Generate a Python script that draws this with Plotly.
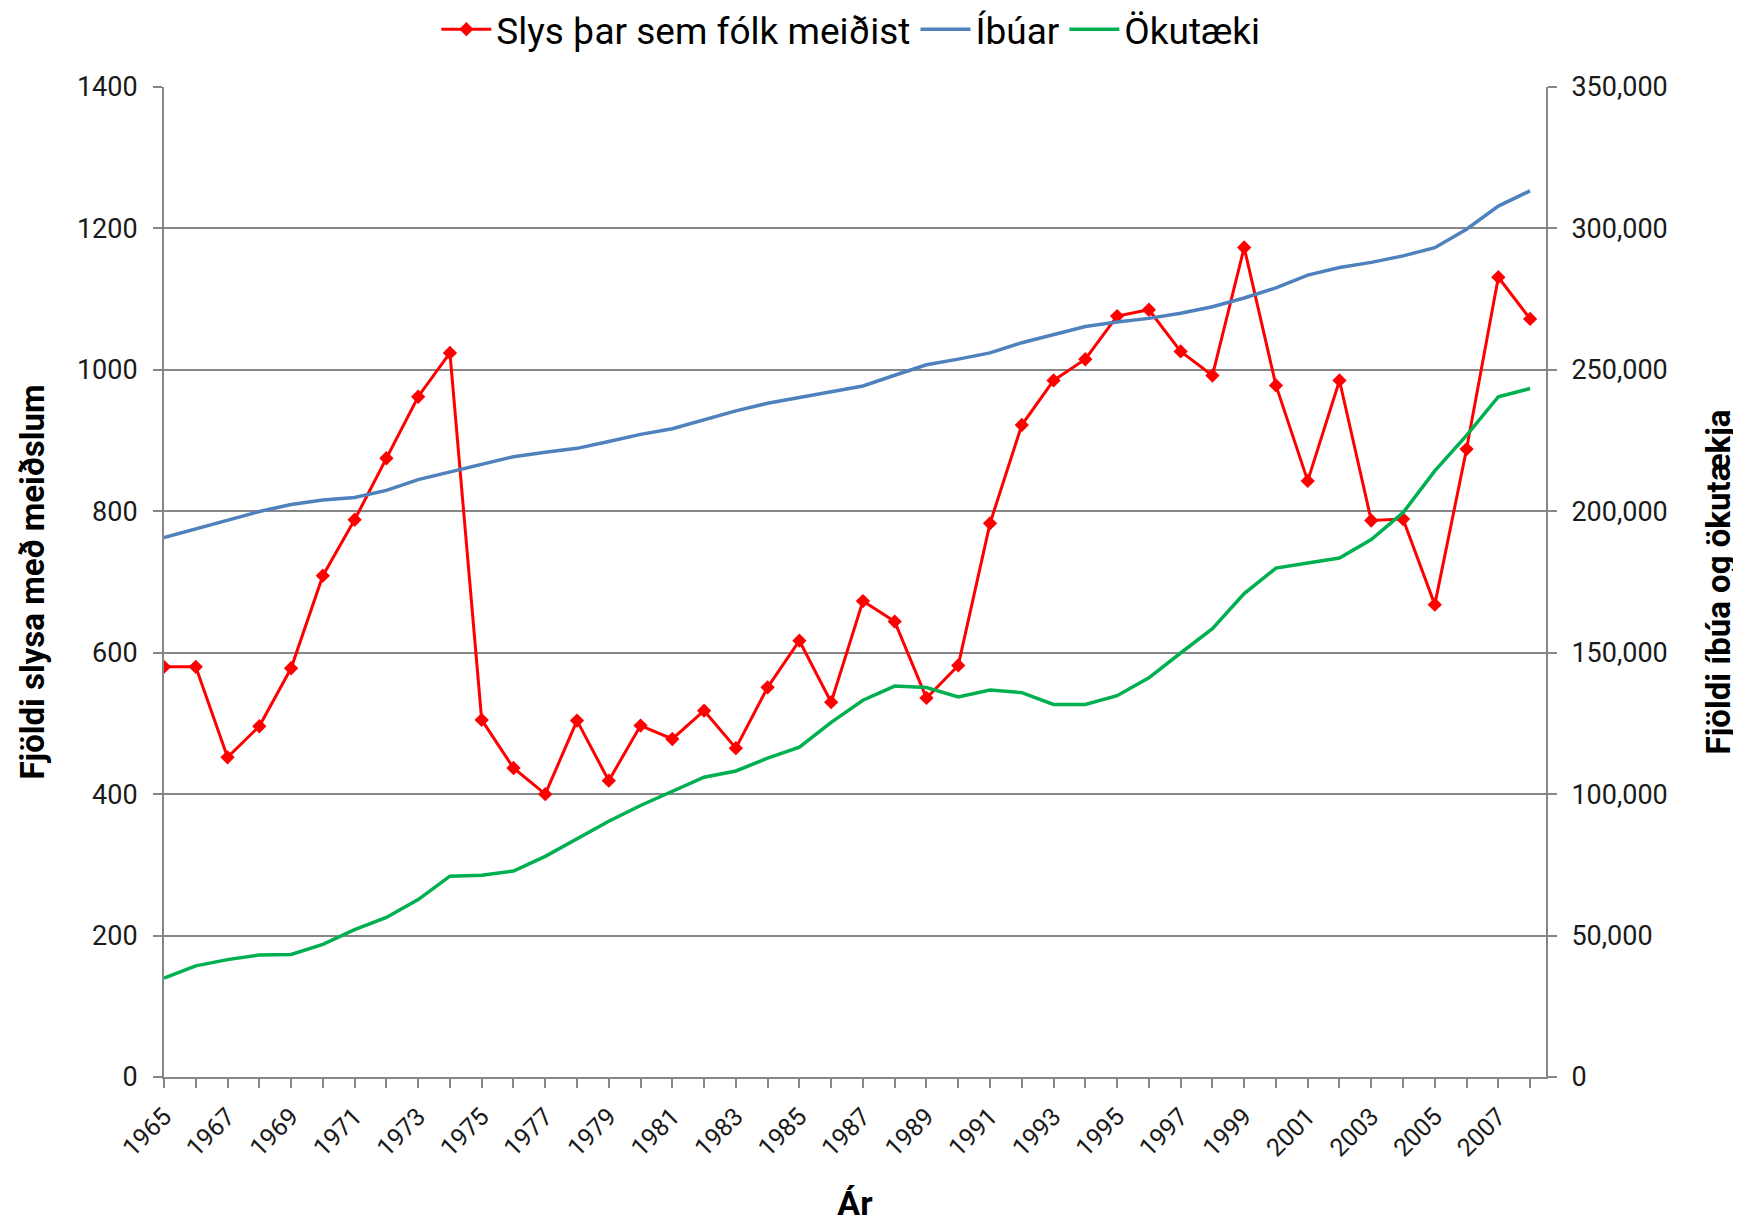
import plotly.graph_objects as go

years = list(range(1965, 2009))

slys = [580, 580, 452, 496, 578, 709, 788, 875, 962, 1024,
        505, 437, 400, 504, 419, 497, 478, 518, 465, 551,
        617, 530, 673, 644, 536, 582, 783, 922, 985, 1015,
        1076, 1085, 1026, 992, 1173, 978, 843, 985, 787, 789,
        668, 888, 1131, 1072]

ibuar = [190700, 193800, 197000, 199900, 202400, 204000, 204900, 207400, 211200, 213900,
         216600, 219300, 220900, 222250, 224700, 227200, 229200, 232400, 235500, 238200,
         240300, 242100, 244300, 248100, 251800, 253800, 256000, 259600, 262600, 265300,
         266900, 268200, 270000, 272300, 275400, 279000, 283500, 286200, 288000, 290300,
         293200, 299700, 307900, 313300]

okutaeki = [35000, 39300, 41500, 43100, 43300, 46900, 52100, 56400, 62700, 71000,
            71300, 72800, 78000, 84300, 90400, 96000, 101000, 106000, 108200, 112700,
            116600, 125400, 133200, 138200, 137700, 134400, 136800, 135900, 131700, 131700,
            134800, 141100, 149900, 158500, 170900, 179900, 181700, 183500, 190000, 199500,
            214300, 226800, 240500, 243400]

tick_labels = [str(y) if (y - 1965) % 2 == 0 else "" for y in years]

FONT = "Roboto, sans-serif"
GRAY = "#868686"

fig = go.Figure()
fig.add_trace(go.Scatter(
    x=years, y=slys, name="Slys þar sem fólk meiðist",
    mode="lines+markers",
    line=dict(color="#FF0000", width=3),
    marker=dict(symbol="diamond", size=11, color="#FF0000"),
))
fig.add_trace(go.Scatter(
    x=years, y=ibuar, name="Íbúar", yaxis="y2",
    mode="lines", line=dict(color="#4F81BD", width=3.5),
))
fig.add_trace(go.Scatter(
    x=years, y=okutaeki, name="Ökutæki", yaxis="y2",
    mode="lines", line=dict(color="#00B050", width=3.5),
))

# page body has an 8px margin, so the figure is 8px smaller and offset
fig.update_layout(
    width=1733, height=1217,
    margin=dict(l=156, r=195, t=79, b=148, autoexpand=False),
    paper_bgcolor="white", plot_bgcolor="white",
    font=dict(family=FONT, size=25, color="#1a1a1a"),
    showlegend=True,
    legend=dict(orientation="h", x=0.497, xanchor="center", y=1.058, yanchor="middle",
                font=dict(size=37, color="#000000"), itemwidth=50,
                traceorder="normal"),
    xaxis=dict(
        range=[1965, 2008.5], tickvals=years, ticktext=tick_labels,
        tickangle=-45, ticks="outside", ticklen=9, tickwidth=2, tickcolor=GRAY,
        showline=True, linecolor=GRAY, linewidth=2, showgrid=False, zeroline=False,
        tickfont=dict(size=25), ticklabelstandoff=4,
        title=dict(text="<b>Ár</b>", font=dict(size=34, color="#000000"), standoff=30),
    ),
    yaxis=dict(
        range=[0, 1400], dtick=200, tickformat="d",
        ticks="outside", ticklen=9, tickwidth=2, tickcolor=GRAY,
        showline=True, linecolor=GRAY, linewidth=2,
        showgrid=True, gridcolor=GRAY, gridwidth=2, zeroline=False,
        tickfont=dict(size=27), ticklabelstandoff=10,
        title=dict(text="<b>Fjöldi slysa med meiðslum</b>".replace("med", "með"),
                   font=dict(size=33, color="#000000"), standoff=22),
    ),
    yaxis2=dict(
        range=[0, 350000], dtick=50000, tickformat=",d",
        overlaying="y", side="right",
        ticks="outside", ticklen=9, tickwidth=2, tickcolor=GRAY,
        showline=True, linecolor=GRAY, linewidth=2,
        showgrid=False, zeroline=False,
        tickfont=dict(size=27), ticklabelstandoff=9,
        title=dict(text="<b>Fjöldi íbúa og ökutækja</b>", font=dict(size=33, color="#000000"), standoff=40),
    ),
)

fig.write_html("out.html")
